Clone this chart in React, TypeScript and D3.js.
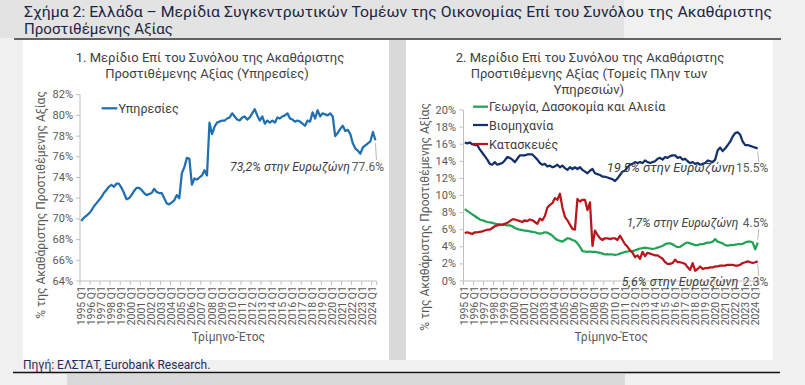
import React from 'react';
import * as d3 from 'd3';

const tickLabels = [
  '1995 Q1','1996 Q1','1997 Q1','1998 Q1','1999 Q1','2000 Q1','2001 Q1','2002 Q1','2003 Q1','2004 Q1',
  '2005 Q1','2006 Q1','2007 Q1','2008 Q1','2009 Q1','2010 Q1','2011 Q1','2012 Q1','2013 Q1','2014 Q1',
  '2015 Q1','2016 Q1','2017 Q1','2018 Q1','2019 Q1','2020 Q1','2021 Q1','2022 Q1','2023 Q1','2024 Q1',
];
const quarterNames = ['Q1', 'Q2', 'Q3', 'Q4'];
const quarters: string[] = [];
tickLabels.forEach((t) => quarterNames.forEach((q) => quarters.push(t.slice(0, 4) + ' ' + q)));
const categories = quarters.slice(0, 118);

const services = [
  69.8,70.1,70.3,70.5, 70.8,71.2,71.5,71.8, 72.1,72.5,72.8,73.1, 73.3,73.1,73.4,73.4,
  73.0,72.5,71.9,72.0, 72.3,72.7,73.0,73.0, 72.8,72.5,72.3,72.4, 72.5,72.9,72.6,72.5,
  72.5,72.0,71.5,71.4, 71.6,71.8,72.3,72.0, 74.4,75.0,75.9,75.8, 73.3,73.9,73.8,74.0,
  74.2,74.7,74.2,79.3, 78.2,78.9,79.3,79.4, 79.5,79.5,79.7,79.8, 80.2,79.9,79.6,79.5,
  79.8,79.9,79.6,79.8, 80.2,80.6,80.0,79.5, 79.9,79.2,79.5,79.3, 79.5,79.3,79.8,79.7,
  79.9,80.0,80.2,79.7, 79.6,79.4,79.5,79.4, 79.2,79.0,79.5,79.4, 80.3,79.7,80.5,79.9,
  80.2,80.1,80.0,80.2, 79.9,78.0,78.3,78.7, 79.0,78.5,78.6,78.2, 77.3,76.8,76.6,76.3,
  76.9,77.1,77.3,77.5, 78.4,77.6,
];

const agriculture = [
  8.4,8.2,8.0,7.8, 7.6,7.4,7.2,7.1, 7.0,6.9,6.85,6.8, 6.7,6.65,6.6,6.55,
  6.55,6.5,6.5,6.4, 6.2,6.1,6.0,5.95, 5.9,5.85,5.8,5.75, 5.7,5.6,5.55,5.6,
  5.7,5.65,5.5,5.3, 5.0,4.8,4.7,4.6, 4.8,5.0,4.95,4.8, 4.7,4.4,4.0,3.5,
  3.45,3.4,3.45,3.4, 3.4,3.35,3.3,3.2, 3.1,3.15,3.1,3.1, 3.05,3.1,3.2,3.3,
  3.4,3.45,3.5,3.5, 3.6,3.7,3.8,3.85, 3.9,3.85,3.8,3.75, 3.8,3.9,4.0,4.1,
  4.3,4.4,4.4,4.3, 4.1,3.95,4.0,4.2, 4.4,4.5,4.4,4.3, 4.2,4.2,4.3,4.3,
  4.4,4.5,4.5,4.6, 4.9,4.6,4.5,4.4, 4.2,4.15,4.2,4.2, 4.25,4.3,4.3,4.35,
  4.5,4.6,4.6,4.5, 3.7,4.5,
];

const industry = [
  16.2,16.1,16.2,16.0, 15.9,15.9,15.4,15.0, 14.6,14.2,13.7,13.6, 13.9,13.6,13.7,13.8,
  14.1,14.5,14.4,14.2, 13.9,14.3,14.7,14.7, 14.7,14.8,14.8,14.8, 14.5,14.2,13.8,13.6,
  13.7,13.4,13.5,13.3, 13.4,13.6,13.3,13.5, 13.2,13.0,13.3,13.1, 13.3,13.1,13.3,13.0,
  12.8,12.6,12.9,13.1, 12.6,12.5,12.4,12.2, 12.2,12.1,12.0,11.9, 11.7,12.0,12.4,12.8,
  12.9,13.3,13.6,13.7, 13.9,13.8,13.9,13.8, 14.1,13.9,13.8,13.9, 14.0,14.3,14.4,14.2,
  14.5,14.4,14.6,14.7, 14.7,14.4,14.5,14.2, 14.3,14.0,13.8,13.9, 13.7,13.8,13.6,13.7,
  13.8,14.1,14.0,13.9, 14.2,15.3,15.6,15.2, 15.5,15.9,16.3,16.9, 17.3,17.4,17.1,16.3,
  15.9,15.9,15.8,15.7, 15.6,15.5,
];

const construction = [
  5.6,5.7,5.6,5.5, 5.7,5.7,5.75,5.8, 5.9,6.0,6.0,6.2, 6.4,6.5,6.6,6.6,
  6.7,6.8,7.0,7.2, 7.2,7.1,7.0,6.9, 7.1,7.0,7.2,7.1, 6.9,6.7,7.3,7.1,
  7.6,8.6,8.9,9.1, 9.7,9.5,10.2,8.6, 7.5,7.1,6.6,6.1, 6.0,9.6,9.3,9.5,
  9.5,8.3,9.2,4.1, 5.9,5.4,5.0,4.8, 5.0,5.0,4.9,5.0, 5.0,4.8,5.3,4.8,
  4.3,4.0,3.6,3.3, 2.8,3.0,2.6,3.4, 2.9,3.3,3.2,3.1, 3.0,3.0,2.8,2.6,
  2.2,2.0,2.0,2.1, 2.5,2.2,2.2,2.1, 2.0,1.6,1.3,2.1, 1.2,1.4,1.7,1.4,
  1.5,1.5,1.6,1.6, 1.7,1.7,1.8,1.8, 1.8,1.9,1.9,1.9, 1.8,1.8,1.9,2.1,
  2.2,2.3,2.2,2.1, 2.2,2.3,
];

const leftTicks = [64, 66, 68, 70, 72, 74, 76, 78, 80, 82];
const rightTicks = [0, 2, 4, 6, 8, 10, 12, 14, 16, 18, 20];

const FONT = 'Roboto, "Noto Sans", sans-serif';
const AXIS_COL = '#bfbfbf';
const LABEL_COL = '#595959';

type Series = { name: string; values: number[]; color: string };

function Panel(props: {
  x0: number; x1: number; yTop: number; yBot: number;
  domain: [number, number]; ticks: number[]; yLabelX: number; axisTitleX: number; axisTitleY: number;
  series: Series[];
}) {
  const { x0, x1, yTop, yBot, domain, ticks, yLabelX, axisTitleX, axisTitleY, series } = props;
  const x = d3.scaleBand<string>().domain(categories).range([x0, x1]).padding(0);
  const bw = x.bandwidth();
  const y = d3.scaleLinear().domain(domain).range([yBot, yTop]);
  const line = d3.line<number>()
    .x((_, i) => (x(categories[i]) as number) + bw / 2)
    .y((d) => y(d));
  const xMid = (x0 + x1) / 2;
  return (
    <g>
      <line x1={x0} x2={x0} y1={yTop} y2={yBot} stroke={AXIS_COL} strokeWidth={1} />
      {ticks.map((t) => (
        <g key={t}>
          <line x1={x0 - 4} x2={x0} y1={y(t)} y2={y(t)} stroke={AXIS_COL} />
          <text x={yLabelX} y={y(t)} textAnchor="end" dominantBaseline="central"
            fontSize={11} fill={LABEL_COL} fontFamily={FONT}>{t}%</text>
        </g>
      ))}
      <line x1={x0} x2={x1} y1={yBot} y2={yBot} stroke={AXIS_COL} strokeWidth={1} />
      {tickLabels.map((lab, k) => {
        const xb = x(categories[k * 4]) as number;
        return (
          <g key={lab}>
            <line x1={xb} x2={xb} y1={yBot} y2={yBot + 4} stroke={AXIS_COL} />
            <text transform={`translate(${xb + bw / 2},${yBot + 5}) rotate(-90)`} textAnchor="end"
              dominantBaseline="central" fontSize={10.5} fill={LABEL_COL} fontFamily={FONT}>{lab}</text>
          </g>
        );
      })}
      <line x1={x1} x2={x1} y1={yBot} y2={yBot + 4} stroke={AXIS_COL} />
      <text x={xMid} y={336.7} textAnchor="middle" dominantBaseline="central" fontSize={12}
        fill={LABEL_COL} fontFamily={FONT}>Τρίμηνο-Έτος</text>
      <text transform={`translate(${axisTitleX},${axisTitleY}) rotate(-90)`} textAnchor="middle"
        dominantBaseline="central" fontSize={12} fill={LABEL_COL} fontFamily={FONT}>
        % της Ακαθάριστης Προστιθέμενης Αξίας
      </text>
      {series.map((s) => (
        <path key={s.name} d={line(s.values) as string} fill="none" stroke={s.color}
          strokeWidth={2.25} strokeLinejoin="round" />
      ))}
    </g>
  );
}

function Note(props: { xStart: number; xSplit: number; xEnd: number; y: number; ez: string; val: string }) {
  const { xStart, xSplit, xEnd, y, ez, val } = props;
  return (
    <g fontFamily={FONT} fontSize={12} fill="#404040">
      <text x={xStart} y={y} dominantBaseline="central" fontStyle="italic"
        textLength={xSplit - xStart} lengthAdjust="spacingAndGlyphs">{ez}</text>
      <text x={xEnd} y={y} textAnchor="end" dominantBaseline="central" fill="#595959">{val}</text>
    </g>
  );
}

export default function App() {
  const xL0 = 80, xL1 = 376.7, xR0 = 463.5, xR1 = 759;
  const yL = d3.scaleLinear().domain([64, 82]).range([281, 94.7]);
  const yR = d3.scaleLinear().domain([0, 20]).range([281, 110]);
  const lastL = xL1 - (xL1 - xL0) / 118 / 2;
  const lastR = xR1 - (xR1 - xR0) / 118 / 2;
  const n = categories.length - 1;
  return (
    <svg width={805} height={385} style={{ position: 'absolute', left: 0, top: 0 }}>
      <rect x={0} y={0} width={805} height={385} fill="#f0f0f0" />
      <rect x={0} y={0} width={624} height={38} fill="#e3e3e3" />
      <rect x={67} y={374} width={558} height={11} fill="#d9d9d9" />
      <rect x={23} y={40} width={366} height={320} fill="#ffffff" />
      <rect x={389} y={40} width={17} height={320} fill="#d9d9d9" />
      <rect x={406} y={40} width={367} height={320} fill="#ffffff" />
      <line x1={14} x2={781} y1={39} y2={39} stroke="#333" strokeWidth={1.5} />
      <line x1={13} x2={780} y1={372.5} y2={372.5} stroke="#111" strokeWidth={1.5} />

      <text x={24} y={17} fontSize={14} fill="#1c2541" fontFamily={FONT}
        textLength={748} lengthAdjust="spacingAndGlyphs">
        Σχήμα 2: Ελλάδα – Μερίδια Συγκεντρωτικών Τομέων της Οικονομίας Επί του Συνόλου της Ακαθάριστης
      </text>
      <text x={24} y={34} fontSize={14} fill="#1c2541" fontFamily={FONT}
        textLength={149} lengthAdjust="spacingAndGlyphs">Προστιθέμενης Αξίας</text>

      <g fontFamily={FONT} fontSize={13} fill="#404040" textAnchor="middle">
        <text x={210} y={62}>1. Μερίδιο Επί του Συνόλου της Ακαθάριστης</text>
        <text x={207} y={77.5}>Προστιθέμενης Αξίας (Υπηρεσίες)</text>
        <text x={590} y={62}>2. Μερίδιο Επί του Συνόλου της Ακαθάριστης</text>
        <text x={589} y={78}>Προστιθέμενης Αξίας (Τομείς Πλην των</text>
        <text x={589} y={94}>Υπηρεσιών)</text>
      </g>

      <Panel x0={xL0} x1={xL1} yTop={94.7} yBot={281} domain={[64, 82]} ticks={leftTicks}
        yLabelX={73} axisTitleX={41} axisTitleY={205}
        series={[{ name: 'Υπηρεσίες', values: services, color: '#1f6fb2' }]} />
      <Panel x0={xR0} x1={xR1} yTop={110} yBot={281} domain={[0, 20]} ticks={rightTicks}
        yLabelX={456} axisTitleX={425} axisTitleY={217}
        series={[
          { name: 'Γεωργία, Δασοκομία και Αλιεία', values: agriculture, color: '#21a353' },
          { name: 'Βιομηχανία', values: industry, color: '#13306b' },
          { name: 'Κατασκευές', values: construction, color: '#b8161b' },
        ]} />

      <g fontFamily={FONT} fontSize={12.5} fill="#404040">
        <line x1={101.7} x2={117.3} y1={108.3} y2={108.3} stroke="#1f6fb2" strokeWidth={2.25} />
        <text x={118.5} y={108.3} dominantBaseline="central">Υπηρεσίες</text>
        <line x1={473} x2={488} y1={106.7} y2={106.7} stroke="#21a353" strokeWidth={2.25} />
        <text x={489} y={106.7} dominantBaseline="central">Γεωργία, Δασοκομία  και Αλιεία</text>
        <line x1={473} x2={488} y1={125} y2={125} stroke="#13306b" strokeWidth={2.25} />
        <text x={489} y={125} dominantBaseline="central">Βιομηχανία</text>
        <line x1={473} x2={488} y1={144} y2={144} stroke="#b8161b" strokeWidth={2.25} />
        <text x={489} y={144} dominantBaseline="central">Κατασκευές</text>
      </g>

      <g stroke="#a6a6a6" strokeWidth={0.8}>
        <line x1={lastL} y1={yL(services[n]) + 3} x2={lastL + 1} y2={160} />
        <line x1={lastR} y1={yR(industry[n]) + 3} x2={lastR + 1} y2={162} />
        <line x1={lastR} y1={yR(agriculture[n]) - 3} x2={lastR + 1} y2={229} />
        <line x1={lastR} y1={yR(construction[n]) + 3} x2={lastR + 1} y2={276} />
      </g>

      <Note xStart={230} xSplit={350} xEnd={384} y={166.7} ez="73,2% στην Ευρωζώνη" val="77.6%" />
      <Note xStart={606.7} xSplit={735} xEnd={768.3} y={168.3} ez="19,5% στην Ευρωζώνη" val="15.5%" />
      <Note xStart={626.7} xSplit={738.3} xEnd={768.3} y={223.3} ez="1,7% στην Ευρωζώνη" val="4.5%" />
      <Note xStart={621.7} xSplit={738.3} xEnd={768.3} y={281.7} ez="5,6% στην Ευρωζώνη" val="2.3%" />

      <text x={23} y={369} fontSize={12} fill="#1f2d5c" fontFamily={FONT}>Πηγή: ΕΛΣΤΑΤ, Eurobank Research.</text>
    </svg>
  );
}
